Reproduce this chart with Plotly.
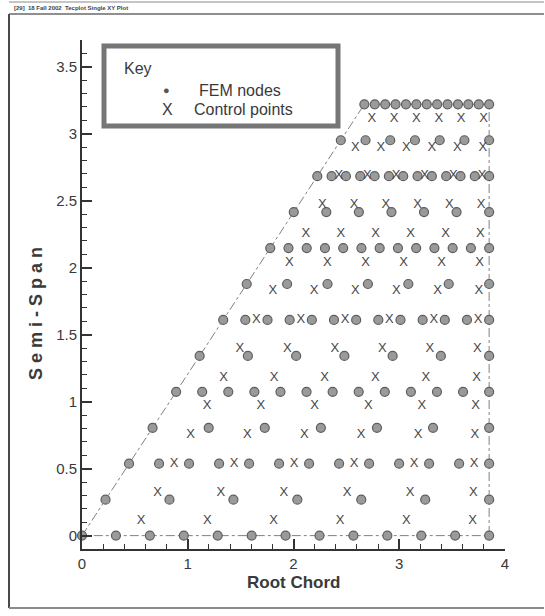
import plotly.graph_objects as go

# Wing planform: root and tip stations
span_y = [0.0, 3.22]
leading_edge_x = [0.0, 2.67]
trailing_edge_x = [3.85, 3.85]

# Structural mesh: 6 x 6 eight-node quadrilateral elements
fem_span_elements = 6
fem_chord_elements = 6

# Aerodynamic lattice: 15 spanwise strips x 6 chordwise boxes,
# control points at the 3/4-chord of each box, mid-strip
aero_strips = 15
aero_boxes = 6
control_chord_fraction = 0.75

x_ticks = [0, 1, 2, 3, 4]
y_ticks = [0, 0.5, 1, 1.5, 2, 2.5, 3, 3.5]

semi_span = span_y[1] - span_y[0]


def chord_limits(y):
    t = (y - span_y[0]) / semi_span
    le = leading_edge_x[0] + t * (leading_edge_x[1] - leading_edge_x[0])
    te = trailing_edge_x[0] + t * (trailing_edge_x[1] - trailing_edge_x[0])
    return le, te


# FEM nodes (corner + mid-side nodes, no centre nodes)
node_x, node_y = [], []
nj, nk = 2 * fem_span_elements, 2 * fem_chord_elements
for j in range(nj + 1):
    y = span_y[0] + j / nj * semi_span
    le, te = chord_limits(y)
    for k in range(nk + 1):
        if j % 2 and k % 2:
            continue
        node_x.append(le + k / nk * (te - le))
        node_y.append(y)

# Aerodynamic control points
cp_x, cp_y = [], []
for s in range(aero_strips):
    y = span_y[0] + (s + 0.5) / aero_strips * semi_span
    le, te = chord_limits(y)
    for b in range(aero_boxes):
        cp_x.append(le + (b + control_chord_fraction) / aero_boxes * (te - le))
        cp_y.append(y)

outline_x = [leading_edge_x[0], leading_edge_x[1], trailing_edge_x[1], trailing_edge_x[0], leading_edge_x[0]]
outline_y = [span_y[0], span_y[1], span_y[1], span_y[0], span_y[0]]

FONT = "Liberation Sans, Arial, sans-serif"
INK = "#3a3a3a"

fig = go.Figure()

fig.add_trace(go.Scatter(
    x=outline_x, y=outline_y, mode="lines",
    line=dict(color="#808080", width=1, dash="dashdot"),
    hoverinfo="skip", showlegend=False,
))

fig.add_trace(go.Scatter(
    x=node_x, y=node_y, mode="markers", name="FEM nodes",
    marker=dict(symbol="circle", size=9, color="#9a9a9a",
                line=dict(color="#5e5e5e", width=1.2)),
    cliponaxis=False, showlegend=False,
))

fig.add_trace(go.Scatter(
    x=cp_x, y=cp_y, mode="text", name="Control points",
    text=["X"] * len(cp_x), textposition="middle center",
    textfont=dict(family=FONT, size=13, color="#474747"),
    cliponaxis=False, showlegend=False,
))

# plot-area geometry in pixels, used to place paper-referenced items
L, R, T, B = 82, 505, 40, 549
W, H = 545, 616


def px(xp):
    return (xp - L) / (R - L)


def py(yp):
    return (B - yp) / (B - T)


shapes = [
    # key box
    dict(type="rect", xref="paper", yref="paper",
         x0=px(104), x1=px(338), y0=py(126), y1=py(46),
         line=dict(color="#767676", width=5), fillcolor="rgba(0,0,0,0)"),
    # window frame
    dict(type="line", xref="paper", yref="paper", x0=px(9), x1=px(9), y0=py(14), y1=py(608),
         line=dict(color="#4a4a4a", width=2)),
    dict(type="line", xref="paper", yref="paper", x0=px(9), x1=px(544), y0=py(14), y1=py(14),
         line=dict(color="#6a6a6a", width=1.5)),
    dict(type="line", xref="paper", yref="paper", x0=px(9), x1=px(544), y0=py(608), y1=py(608),
         line=dict(color="#8a8a8a", width=2)),
    dict(type="line", xref="paper", yref="paper", x0=px(9), x1=px(544), y0=py(2), y1=py(2),
         line=dict(color="#8a8a8a", width=1)),
]

annotations = [
    dict(text="Key", x=px(122), y=py(68), xanchor="left", yanchor="middle",
         font=dict(family=FONT, size=16, color=INK)),
    dict(text="●", x=px(166), y=py(90), xanchor="center", yanchor="middle",
         font=dict(family=FONT, size=11, color="#555")),
    dict(text="FEM nodes", x=px(197), y=py(90), xanchor="left", yanchor="middle",
         font=dict(family=FONT, size=16, color=INK)),
    dict(text="X", x=px(167), y=py(110), xanchor="center", yanchor="middle",
         font=dict(family=FONT, size=16, color=INK)),
    dict(text="Control points", x=px(192), y=py(110), xanchor="left", yanchor="middle",
         font=dict(family=FONT, size=16, color=INK)),
    dict(text="<b>Root Chord</b>", x=px(293), y=py(582), xanchor="center", yanchor="middle",
         font=dict(family=FONT, size=17, color=INK)),
    dict(text="<b>S e m i - S p a n</b>", x=px(36), y=py(314), xanchor="center", yanchor="middle",
         textangle=-90, font=dict(family=FONT, size=18, color=INK)),
    dict(text="<b>[29]  18 Fall 2002  Tecplot Single XY Plot</b>", x=px(12), y=py(8),
         xanchor="left", yanchor="middle", font=dict(family=FONT, size=6, color="#444")),
]
for a in annotations:
    a.update(xref="paper", yref="paper", showarrow=False)

axis_common = dict(
    showgrid=False, zeroline=False, showline=True, linewidth=2, linecolor="#333",
    ticks="inside", ticklen=10, tickwidth=2, tickcolor="#333",
    tickfont=dict(family=FONT, size=15, color=INK),
)

fig.update_layout(
    width=W, height=H,
    margin=dict(l=L, r=W - R, t=T, b=H - B, pad=0),
    paper_bgcolor="white", plot_bgcolor="white",
    showlegend=False,
    xaxis=dict(range=[0, 4], tickmode="array", tickvals=x_ticks,
               minor=dict(ticks="inside", ticklen=5, tickwidth=1, tickcolor="#333", dtick=0.2, tick0=0),
               **axis_common),
    yaxis=dict(range=[-0.1, 3.7], tickmode="array", tickvals=y_ticks,
               minor=dict(ticks="inside", ticklen=5, tickwidth=1, tickcolor="#333", dtick=0.1, tick0=0),
               **axis_common),
    shapes=shapes,
    annotations=annotations,
)

fig.write_html("out.html")
